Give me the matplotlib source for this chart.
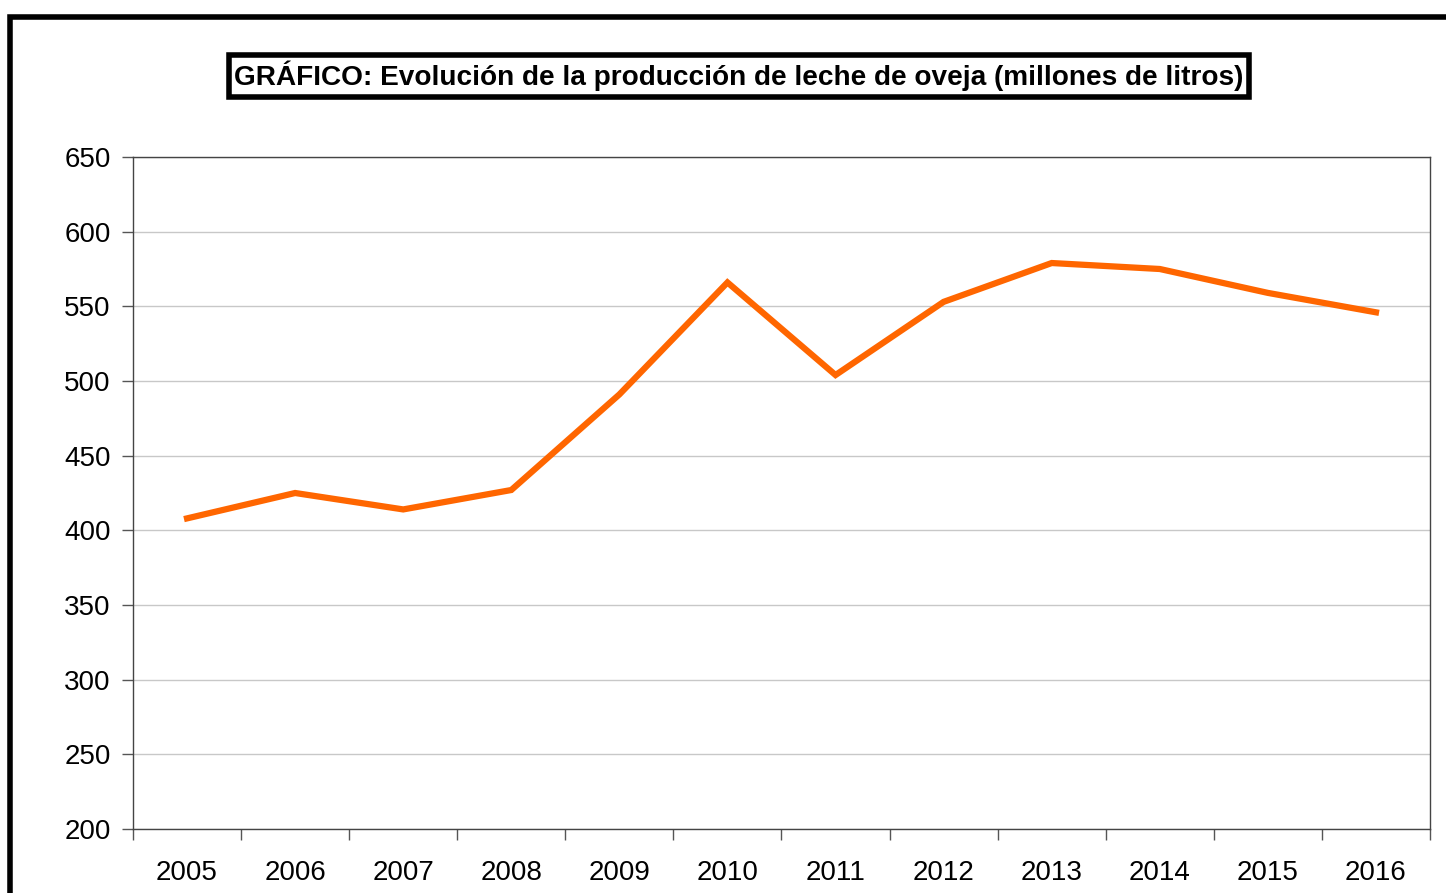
import numpy as np
import matplotlib.pyplot as plt
from matplotlib.patches import Rectangle

years = ['2005', '2006', '2007', '2008', '2009', '2010',
         '2011', '2012', '2013', '2014', '2015', '2016']
produccion = [408, 425, 414, 427, 491, 566, 504, 553, 579, 575, 559, 546]
y_ticks = [200, 250, 300, 350, 400, 450, 500, 550, 600, 650]

plt.rcParams['font.family'] = ['Liberation Sans', 'DejaVu Sans']

fig = plt.figure(figsize=(14.46, 8.93), dpi=100)
ax = fig.add_axes([133/1446, 1-829/893, (1430-133)/1446, (829-157)/893])

# marco exterior (cortado a la derecha y abajo)
fig.patches.append(Rectangle((10/1446, -0.1), 1.2, 1-17/893+0.1,
                             transform=fig.transFigure, fill=False,
                             edgecolor='black', linewidth=4, clip_on=False))

x = np.arange(len(years))
ax.plot(x, produccion, color='#FF6600', linewidth=4.5, solid_joinstyle='miter')

ax.set_xlim(-0.5, len(years) - 0.5)
ax.set_ylim(200, 650)
ax.set_yticks(y_ticks)
ax.set_xticks(x)
ax.set_xticklabels(years)
ax.set_xticks(np.arange(-0.5, len(years)), minor=True)
ax.tick_params(axis='x', which='major', length=0, pad=22.5, labelsize=20)
ax.tick_params(axis='x', which='minor', length=8, width=1, color='#555555')
ax.tick_params(axis='y', length=8, width=1, color='#555555', pad=8, labelsize=20)
ax.yaxis.grid(True, color='#C8C8C8', linewidth=1)
ax.set_axisbelow(True)
for s in ax.spines.values():
    s.set_color('#444444')
    s.set_linewidth(1)

fig.text(739/1446, 1-76/893,
         'GRÁFICO: Evolución de la producción de leche de oveja (millones de litros)',
         ha='center', va='center', fontsize=20.2, fontweight='bold',
         bbox=dict(boxstyle='square,pad=0.2', facecolor='white',
                   edgecolor='black', linewidth=4))

fig.savefig('out.png', dpi=100)
